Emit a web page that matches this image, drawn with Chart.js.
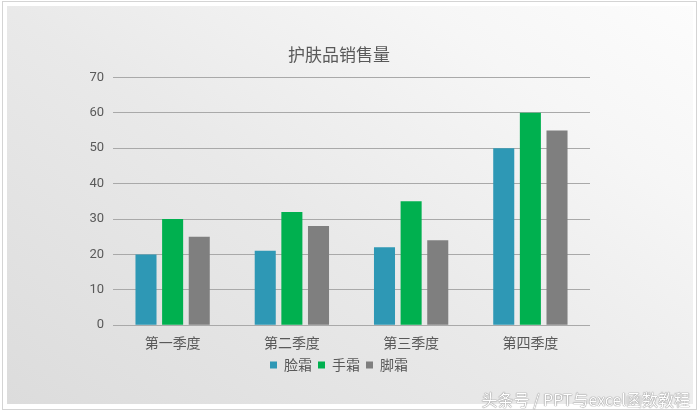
<!DOCTYPE html>
<html>
<head>
<meta charset="utf-8">
<script src="https://cdn.jsdelivr.net/npm/chart.js@4"></script>
<style>
  html, body { margin: 0; padding: 0; background: #fff; }
  #frame { position: absolute; left: 2px; top: 1px; width: 693px; height: 407px; border: 1px solid #d4d4d4; background: #fff; }
  #panel { position: absolute; left: 7px; top: 6px; width: 686px; height: 398px;
    background: linear-gradient(35deg, #dcdcdc 0%, #e9e9e9 45%, #f6f6f6 78%, #fcfcfc 100%); }
  #wrap { position: absolute; left: 0; top: 0; width: 699px; height: 413px; }
  #mark { position: absolute; right: 9px; top: 387px; font-family: "Noto Sans CJK SC", sans-serif; font-size: 16px;
    color: #fff; text-shadow: 0 0 1px #777, 0 0 1px #777; }
</style>
</head>
<body>
<div id="frame"></div>
<div id="panel"></div>
<div id="wrap"><canvas id="c" width="699" height="413"></canvas></div>
<div id="mark">头条号 / PPT与excel函数教程</div>
<script>
const quarters = ['第一季度', '第二季度', '第三季度', '第四季度'];
const faceCream = [20, 21, 22, 50];
const handCream = [30, 32, 35, 60];
const footCream = [25, 28, 24, 55];
const yTicks = [0, 10, 20, 30, 40, 50, 60, 70];

const textColor = '#595959';
const cjk = '"Noto Sans CJK SC", "Noto Sans", sans-serif';

new Chart(document.getElementById('c'), {
  type: 'bar',
  data: {
    labels: quarters,
    datasets: [
      { label: '脸霜', data: faceCream, backgroundColor: '#2e98b5' },
      { label: '手霜', data: handCream, backgroundColor: '#00b04f' },
      { label: '脚霜', data: footCream, backgroundColor: '#7f7f7f' }
    ]
  },
  options: {
    responsive: false,
    animation: false,
    // left padding is wide so title/legend centre over the plot like the original
    layout: { padding: { left: 88, right: 109, top: 34, bottom: 31 } },
    datasets: { bar: { categoryPercentage: 0.67, barPercentage: 0.79 } },
    plugins: {
      title: {
        display: true, text: '护肤品销售量', color: textColor,
        font: { family: cjk, size: 17, weight: 'normal' },
        padding: { top: 10, bottom: 13 }
      },
      legend: {
        position: 'bottom',
        labels: { color: textColor, font: { family: cjk, size: 14 }, boxWidth: 7, boxHeight: 7, padding: 6 }
      },
      tooltip: { enabled: false }
    },
    scales: {
      x: {
        grid: { display: false },
        border: { display: false },
        ticks: { color: textColor, font: { family: cjk, size: 14 }, padding: 1 }
      },
      y: {
        min: 0, max: 70,
        afterFit: (s) => { s.width = 25; },
        afterBuildTicks: (s) => { s.ticks = yTicks.map(v => ({ value: v })); },
        grid: { color: '#a9a9a9', lineWidth: 1, drawTicks: false },
        border: { display: false },
        ticks: { color: textColor, font: { family: 'Roboto, "Noto Sans", sans-serif', size: 13 }, padding: 9 }
      }
    }
  }
});
</script>
</body>
</html>
